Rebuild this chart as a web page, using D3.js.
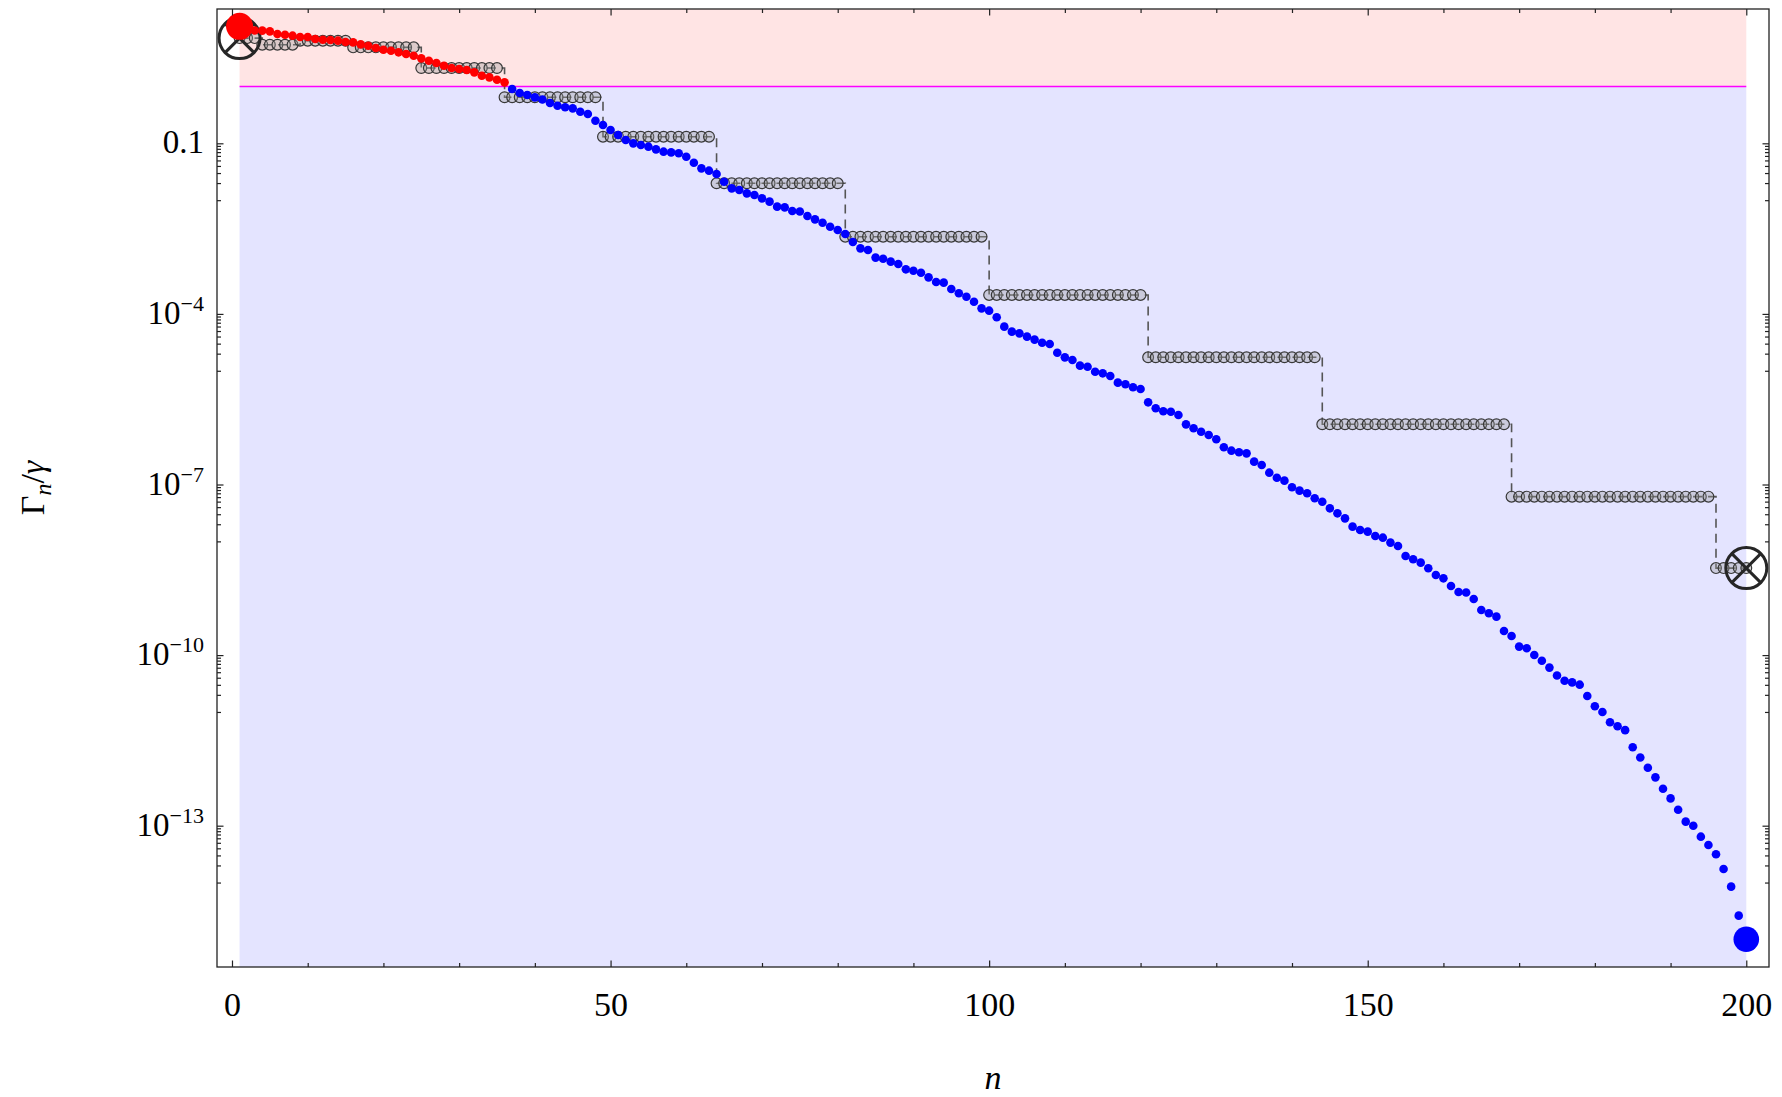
<!DOCTYPE html>
<html><head><meta charset="utf-8">
<script src="https://cdn.jsdelivr.net/npm/d3@7"></script>
<style>
body{margin:0;background:#fff}
svg{display:block}
text{font-family:"Liberation Serif","DejaVu Serif",serif;fill:#000}
</style>
</head><body>
<svg id="c" width="1782" height="1097"></svg>
<script>
// ---------------- data (log10 of Γn/γ) ----------------
// red points, n = 1..36
const redN0 = 1;
const redLog = [1.057, 1.0, 0.985, 0.981, 0.969, 0.922, 0.910, 0.893, 0.869, 0.869,
  0.834, 0.822, 0.816, 0.805, 0.781, 0.775, 0.740, 0.717, 0.676, 0.646,
  0.629, 0.600, 0.570, 0.541, 0.494, 0.453, 0.412, 0.365, 0.324, 0.306,
  0.289, 0.248, 0.189, 0.160, 0.119, 0.072];
// blue points, n = 37..200
const blueN0 = 37;
const blueLog = [-0.045, -0.116, -0.151, -0.192, -0.23, -0.29, -0.34, -0.367, -0.385, -0.444,
  -0.485, -0.602, -0.678, -0.766, -0.854, -0.942, -1.001, -1.030, -1.059, -1.106,
  -1.147, -1.16, -1.176, -1.235, -1.341, -1.440, -1.481, -1.540, -1.675, -1.792,
  -1.821, -1.880, -1.909, -1.968, -2.026, -2.114, -2.126, -2.19, -2.20, -2.279,
  -2.337, -2.396, -2.466, -2.525, -2.595, -2.736, -2.847, -2.876, -3.01, -3.03,
  -3.081, -3.122, -3.216, -3.240, -3.275, -3.357, -3.44, -3.45, -3.562, -3.638,
  -3.697, -3.785, -3.902, -3.943, -4.060, -4.224, -4.312, -4.342, -4.400, -4.452,
  -4.506, -4.529, -4.682, -4.764, -4.810, -4.910, -4.928, -5.016, -5.045, -5.092,
  -5.209, -5.238, -5.291, -5.320, -5.555, -5.660, -5.712, -5.72, -5.778, -5.942,
  -6.012, -6.071, -6.129, -6.205, -6.346, -6.405, -6.434, -6.452, -6.598, -6.657,
  -6.792, -6.880, -6.932, -7.049, -7.108, -7.155, -7.243, -7.302, -7.419, -7.507,
  -7.595, -7.741, -7.800, -7.829, -7.905, -7.935, -8.022, -8.081, -8.257, -8.315,
  -8.374, -8.474, -8.591, -8.650, -8.784, -8.89, -8.90, -9.013, -9.206, -9.265,
  -9.324, -9.576, -9.664, -9.851, -9.880, -9.998, -10.10, -10.22, -10.36, -10.45,
  -10.48, -10.52, -10.72, -10.90, -11.00, -11.18, -11.25, -11.32, -11.62, -11.80,
  -11.98, -12.15, -12.35, -12.52, -12.72, -12.929, -13.0, -13.193, -13.339, -13.502,
  -13.761, -14.072, -14.582, -14.997];
// grey staircase: first n of each step and its level
const stepStart = [1, 4, 9, 16, 25, 36, 49, 64, 81, 100, 121, 144, 169, 196];
const stepLog = [0.85, 0.734, 0.804, 0.688, 0.324, -0.19, -0.884, -1.703, -2.642, -3.667, -4.763, -5.941, -7.214, -8.47];
const nMax = 200;
const threshold = 1;
const xMajor = [0, 50, 100, 150, 200];
const xMinor = [10, 20, 30, 40, 60, 70, 80, 90, 110, 120, 130, 140, 160, 170, 180, 190];
const yMajorExp = [-1, -4, -7, -10, -13];
const yLabels = ["0.1", "10|−4", "10|−7", "10|−10", "10|−13"];

// ---------------- layout ----------------
const L = 217, R = 1769, T = 9, B = 967;
const svg = d3.select("#c");
const x = d3.scaleLinear().domain([-1.98, 203]).range([L, R]);
const y = d3.scaleLog().domain([Math.pow(10, -15.485), Math.pow(10, 1.362)]).range([B, T]);

const red = redLog.map((v, i) => ({n: redN0 + i, v: Math.pow(10, v)}));
const blue = blueLog.map((v, i) => ({n: blueN0 + i, v: Math.pow(10, v)}));
const grey = [];
stepStart.forEach((s, i) => {
  const e = i + 1 < stepStart.length ? stepStart[i + 1] - 1 : nMax;
  for (let n = s; n <= e; n++) grey.push({n, v: Math.pow(10, stepLog[i])});
});

svg.append("defs").append("clipPath").attr("id", "clip")
  .append("rect").attr("x", L).attr("y", T).attr("width", R - L).attr("height", B - T);
const plot = svg.append("g").attr("clip-path", "url(#clip)");

// fills
plot.append("rect").attr("x", x(1)).attr("y", T).attr("width", x(nMax) - x(1))
  .attr("height", y(threshold) - T).attr("fill", "#ffe4e4");
plot.append("rect").attr("x", x(1)).attr("y", y(threshold)).attr("width", x(nMax) - x(1))
  .attr("height", B - y(threshold)).attr("fill", "#e4e4ff");
plot.append("line").attr("x1", x(1)).attr("x2", x(nMax)).attr("y1", y(threshold)).attr("y2", y(threshold))
  .attr("stroke", "#ff00ff").attr("stroke-width", 1.6);

// staircase
const stepLine = d3.line().x(d => x(d.n)).y(d => y(d.v)).curve(d3.curveStepAfter);
plot.append("path").datum(grey).attr("d", stepLine).attr("fill", "none")
  .attr("stroke", "#555").attr("stroke-width", 1.6).attr("stroke-dasharray", "9,6");
plot.append("g").selectAll("circle").data(grey).join("circle")
  .attr("cx", d => x(d.n)).attr("cy", d => y(d.v)).attr("r", 5.4)
  .attr("fill", "#9a9a9a").attr("fill-opacity", 0.35)
  .attr("stroke", "#383838").attr("stroke-width", 1.2);

// crossed circles at ends
[grey[0], grey[grey.length - 1]].forEach(d => {
  const cx = x(d.n), cy = y(d.v), r = 20.5, k = r * Math.SQRT1_2;
  const g = plot.append("g").attr("stroke", "#262626").attr("stroke-width", 3).attr("fill", "none");
  g.append("circle").attr("cx", cx).attr("cy", cy).attr("r", r);
  g.append("line").attr("x1", cx - k).attr("y1", cy - k).attr("x2", cx + k).attr("y2", cy + k);
  g.append("line").attr("x1", cx - k).attr("y1", cy + k).attr("x2", cx + k).attr("y2", cy - k);
});

// dots
plot.append("g").selectAll("circle").data(blue).join("circle")
  .attr("cx", d => x(d.n)).attr("cy", d => y(d.v)).attr("r", 4.3).attr("fill", "#0000ff");
plot.append("g").selectAll("circle").data(red).join("circle")
  .attr("cx", d => x(d.n)).attr("cy", d => y(d.v)).attr("r", 4.3).attr("fill", "#ff0000");
plot.append("circle").attr("cx", x(red[0].n)).attr("cy", y(red[0].v)).attr("r", 13.5).attr("fill", "#ff0000");
const lb = blue[blue.length - 1];
plot.append("circle").attr("cx", x(lb.n)).attr("cy", y(lb.v)).attr("r", 12.8).attr("fill", "#0000ff");

// ---------------- axes ----------------
const yMinor = [];
yMajorExp.forEach(k => { for (let m = 1; m <= 9; m++) yMinor.push(m * Math.pow(10, k - 1)); });
const yMajor = yMajorExp.map(k => Math.pow(10, k));

function clean(g) { g.select(".domain").remove(); g.selectAll("line").attr("stroke", "#222").attr("stroke-width", 1.2); }

svg.append("g").attr("transform", `translate(0,${B})`)
  .call(d3.axisBottom(x).tickValues(xMajor).tickSizeInner(-6.5).tickSizeOuter(0).tickPadding(25).tickFormat(d3.format("d")))
  .call(clean).call(g => g.attr("font-family", null).attr("font-size", null)
    .selectAll("text").attr("font-size", 34).attr("fill", "#000"));
svg.append("g").attr("transform", `translate(0,${B})`)
  .call(d3.axisBottom(x).tickValues(xMinor).tickSizeInner(-4).tickSizeOuter(0).tickFormat("")).call(clean);
svg.append("g").attr("transform", `translate(0,${T})`)
  .call(d3.axisTop(x).tickValues(xMajor).tickSizeInner(-6.5).tickSizeOuter(0).tickFormat("")).call(clean);
svg.append("g").attr("transform", `translate(0,${T})`)
  .call(d3.axisTop(x).tickValues(xMinor).tickSizeInner(-4).tickSizeOuter(0).tickFormat("")).call(clean);

svg.append("g").attr("transform", `translate(${L},0)`)
  .call(d3.axisLeft(y).tickValues(yMajor).tickSizeInner(-6.5).tickSizeOuter(0).tickFormat("")).call(clean);
svg.append("g").attr("transform", `translate(${L},0)`)
  .call(d3.axisLeft(y).tickValues(yMinor).tickSizeInner(-4).tickSizeOuter(0).tickFormat("")).call(clean);
svg.append("g").attr("transform", `translate(${R},0)`)
  .call(d3.axisRight(y).tickValues(yMajor).tickSizeInner(-6.5).tickSizeOuter(0).tickFormat("")).call(clean);
svg.append("g").attr("transform", `translate(${R},0)`)
  .call(d3.axisRight(y).tickValues(yMinor).tickSizeInner(-4).tickSizeOuter(0).tickFormat("")).call(clean);

// y labels
yMajor.forEach((v, i) => {
  const parts = yLabels[i].split("|");
  const t = svg.append("text").attr("x", L - 13).attr("y", y(v) + 10)
    .attr("text-anchor", "end").attr("font-size", 33).text(parts[0]);
  if (parts[1]) t.append("tspan").attr("font-size", 22).attr("dy", -13).text(parts[1]);
});

// frame
svg.append("rect").attr("x", L).attr("y", T).attr("width", R - L).attr("height", B - T)
  .attr("fill", "none").attr("stroke", "#222").attr("stroke-width", 1.3);

// axis titles
svg.append("text").attr("x", (L + R) / 2).attr("y", 1089).attr("text-anchor", "middle")
  .attr("font-size", 34).attr("font-style", "italic").text("n");
const yt = svg.append("text").attr("transform", `translate(44,${(T + B) / 2}) rotate(-90)`)
  .attr("text-anchor", "middle").attr("font-size", 34);
yt.append("tspan").text("Γ");
yt.append("tspan").attr("font-style", "italic").attr("font-size", 24).attr("dy", 7).text("n");
yt.append("tspan").attr("dy", -7).text("/");
yt.append("tspan").attr("font-style", "italic").text("γ");
</script>
</body></html>
